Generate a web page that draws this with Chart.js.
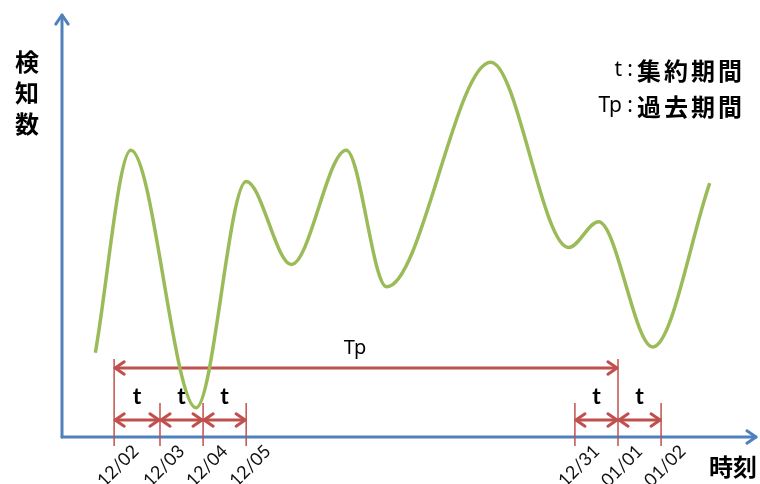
<!DOCTYPE html>
<html><head><meta charset="utf-8">
<script src="https://cdn.jsdelivr.net/npm/chart.js@4"></script>
<style>html,body{margin:0;padding:0;background:#fff}#wrap{width:760px;height:484px}</style>
</head><body><div id="wrap"><canvas id="c" width="760" height="484"></canvas></div>
<script>
// Schematic time axis (arbitrary units 0-100) and detection counts (arbitrary units 0-100)
const curveX = [4.8, 9.9, 19.3, 26.5, 33.0, 40.9, 46.7, 61.7, 72.9, 77.2, 85.0, 93.2];
const curveY = [19.9, 67.8, 6.9, 60.4, 40.8, 67.8, 35.5, 88.6, 44.8, 50.9, 21.3, 60.0];
const tickPositions = [7.5, 14.1, 20.3, 26.5, 73.8, 80.0, 86.2];
const tickLabels = ['12/02', '12/03', '12/04', '12/05', '12/31', '01/01', '01/02'];
const tIntervals = [[0, 1], [1, 2], [2, 3], [4, 5], [5, 6]];
const tIntervalLabel = 't';
const tpInterval = [0, 5];
const tpLabel = 'Tp';
const yAxisTitle = ['検', '知', '数'];
const xAxisTitle = '時刻';
const legendKeys = ['t', 'Tp'];
const legendTexts = ['集約期間', '過去期間'];

const BLUE = '#4F81BD', RED = '#C0504D', GREEN = '#9BBB59';
const LATIN = 'Lato, "Liberation Sans", sans-serif';
const CJK = '"Noto Sans CJK JP", sans-serif';

function chevron(ctx, x, y, dir, len, spread) {
  const a1 = dir + Math.PI - spread, a2 = dir + Math.PI + spread;
  ctx.beginPath();
  ctx.moveTo(x + Math.cos(a1) * len, y + Math.sin(a1) * len);
  ctx.lineTo(x, y);
  ctx.lineTo(x + Math.cos(a2) * len, y + Math.sin(a2) * len);
  ctx.stroke();
}
function dblArrow(ctx, x1, x2, y) {
  ctx.beginPath(); ctx.moveTo(x1 + 1, y); ctx.lineTo(x2 - 1, y); ctx.stroke();
  chevron(ctx, x1 + 1, y, Math.PI, 11, 0.6);
  chevron(ctx, x2 - 1, y, 0, 11, 0.6);
}

const diagram = {
  id: 'diagram',
  beforeDatasetsDraw(chart) {
    const ctx = chart.ctx, xs = chart.scales.x, a = chart.chartArea;
    ctx.save();
    ctx.lineCap = 'round'; ctx.lineJoin = 'round';
    // axes with arrows
    ctx.strokeStyle = BLUE; ctx.lineWidth = 3;
    ctx.beginPath(); ctx.moveTo(a.left, a.bottom); ctx.lineTo(a.left, a.top + 1); ctx.stroke();
    ctx.beginPath(); ctx.moveTo(a.left, a.bottom); ctx.lineTo(a.right - 1, a.bottom); ctx.stroke();
    chevron(ctx, a.left, a.top + 1, -Math.PI / 2, 11, 0.6);
    chevron(ctx, a.right - 1, a.bottom, 0, 11, 0.6);

    const px = tickPositions.map(v => xs.getPixelForValue(v));
    // tick verticals
    ctx.strokeStyle = RED; ctx.lineWidth = 1.5; ctx.lineCap = 'butt';
    px.forEach((x, i) => {
      const tall = (i === tpInterval[0] || i === tpInterval[1]);
      ctx.beginPath(); ctx.moveTo(x, tall ? 359 : 403); ctx.lineTo(x, 446); ctx.stroke();
    });
    // arrows
    ctx.lineWidth = 3; ctx.lineCap = 'round';
    dblArrow(ctx, px[tpInterval[0]], px[tpInterval[1]], 368);
    tIntervals.forEach(([i, j]) => dblArrow(ctx, px[i], px[j], 420));

    // labels
    ctx.fillStyle = '#000'; ctx.textAlign = 'center'; ctx.textBaseline = 'middle';
    ctx.font = '20px "Noto Sans", ' + LATIN;
    ctx.fillText(tpLabel, (px[tpInterval[0]] + px[tpInterval[1]]) / 2 - 11, 348);
    ctx.font = 'bold 23px ' + LATIN;
    tIntervals.forEach(([i, j]) => ctx.fillText(tIntervalLabel, (px[i] + px[j]) / 2, 397));

    // tick labels rotated
    ctx.font = '18px ' + LATIN; ctx.fillStyle = '#111';
    px.forEach((x, i) => {
      ctx.save(); ctx.translate(x + 4, 466); ctx.rotate(-Math.PI / 4);
      ctx.fillText(tickLabels[i], 0, 0); ctx.restore();
    });

    // axis titles
    ctx.fillStyle = '#000';
    ctx.font = 'bold 24px ' + CJK;
    yAxisTitle.forEach((ch, i) => ctx.fillText(ch, 27, 62 + i * 31));
    ctx.fillText(xAxisTitle, 733, 467);

    // legend
    legendKeys.forEach((k, i) => {
      const y = 70 + i * 36;
      ctx.textAlign = 'left';
      ctx.font = 'bold 24px ' + CJK;
      ctx.letterSpacing = '3px';
      ctx.fillText(legendTexts[i], 637, y + 1);
      ctx.letterSpacing = '0px';
      ctx.font = '21px "Noto Sans", ' + LATIN;
      ctx.textAlign = 'center';
      ctx.fillText(':', 630, y);
      ctx.textAlign = 'right';
      ctx.fillText(k, 622, y);
    });
    ctx.restore();
  }
};

new Chart(document.getElementById('c'), {
  type: 'line',
  data: {
    datasets: [{
      data: curveX.map((x, i) => ({ x, y: curveY[i] })),
      borderColor: GREEN, borderWidth: 3.5, pointRadius: 0,
      cubicInterpolationMode: 'monotone', fill: false
    }]
  },
  options: {
    responsive: false, animation: false, devicePixelRatio: 1,
    layout: { padding: { left: 62, right: 3, top: 14, bottom: 47 } },
    plugins: { legend: { display: false }, tooltip: { enabled: false } },
    scales: {
      x: { type: 'linear', min: 0, max: 100, display: false },
      y: { type: 'linear', min: 0, max: 100, display: false }
    }
  },
  plugins: [diagram]
});
</script></body></html>
